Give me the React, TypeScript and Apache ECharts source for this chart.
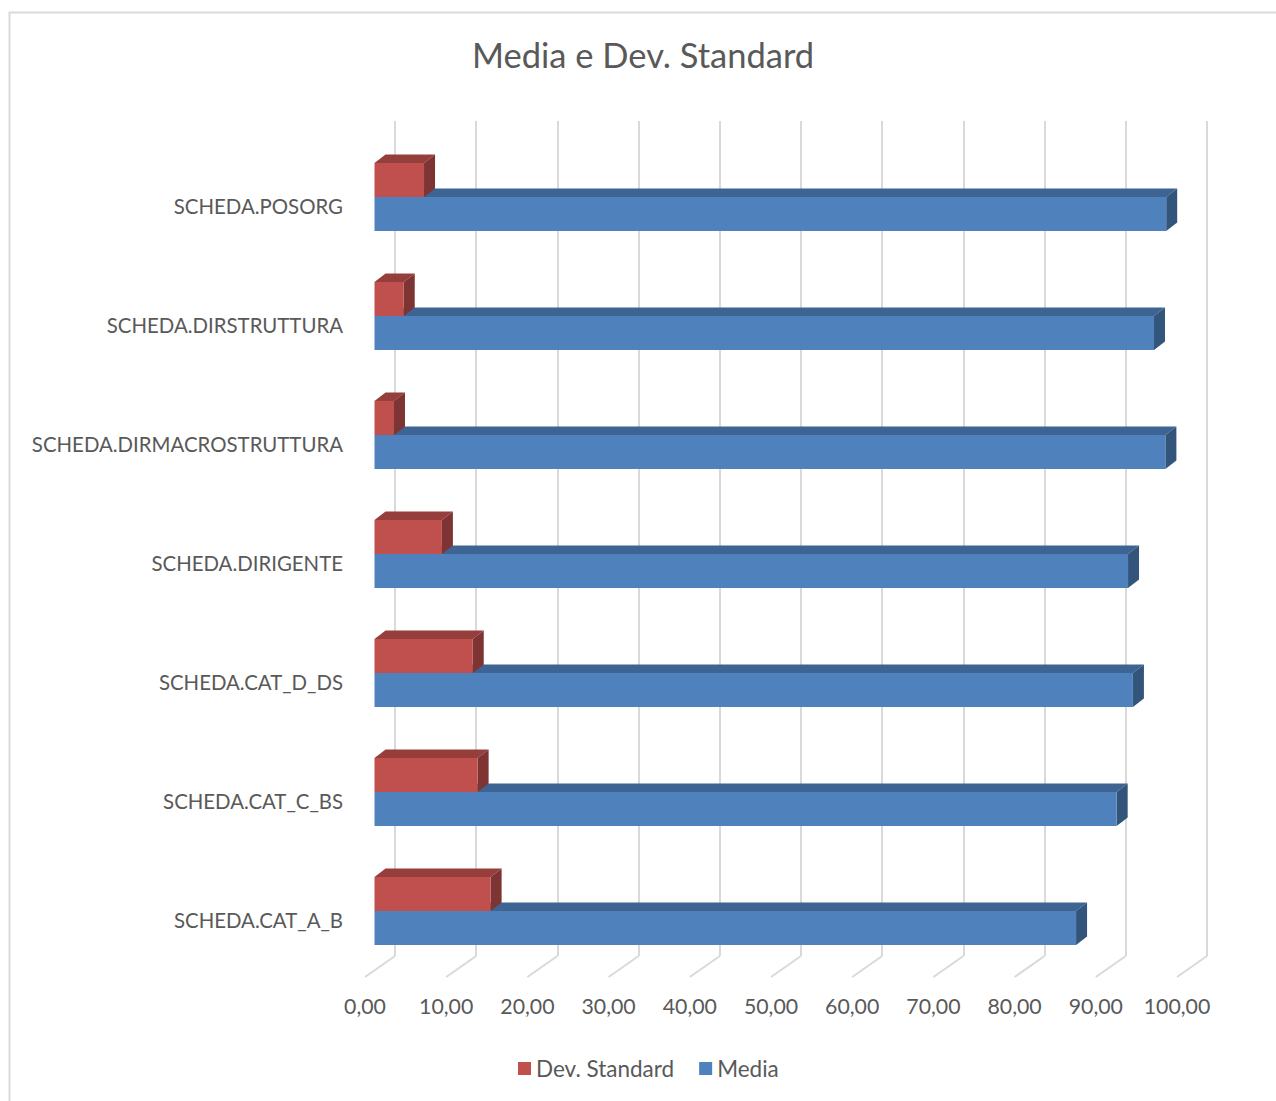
import React, { useEffect, useRef } from "react";
import * as echarts from "echarts";

// Categories listed bottom-to-top (ECharts draws the first category at the bottom)
const categories = [
  "SCHEDA.CAT_A_B",
  "SCHEDA.CAT_C_BS",
  "SCHEDA.CAT_D_DS",
  "SCHEDA.DIRIGENTE",
  "SCHEDA.DIRMACROSTRUTTURA",
  "SCHEDA.DIRSTRUTTURA",
  "SCHEDA.POSORG",
];
const devStandard = [14.3, 12.7, 12.1, 8.3, 2.4, 3.6, 6.1];
const media = [86.4, 91.4, 93.4, 92.8, 97.4, 96.0, 97.5];
const xTicks = [0, 10, 20, 30, 40, 50, 60, 70, 80, 90, 100];

const FONT = "Lato, 'Open Sans', sans-serif";
const TEXT = "#595959";
const GRID_LINE = "#d9d9d9";

// Oblique 3D look: shift from the front plane to the back wall
const WALL_DX = 30;
const WALL_DY = -21;
// Bars sit a little behind the front plane and have a fixed depth
const BAR_OFF_X = 9.5;
const BAR_OFF_Y = -8.6;
const BAR_DX = 11;
const BAR_DY = -8.5;
const BAR_H = 34;
// Front floor edge sits slightly above the label baseline of the front plane
const FLOOR_LIFT = 2;

function makeBarRenderer(front: string, top: string, side: string, upper: boolean) {
  return (params: any, api: any) => {
    const cat = api.value(0);
    const val = api.value(1);
    const p0 = api.coord([0, cat]);
    const p1 = api.coord([val, cat]);
    const yc = p0[1] + BAR_OFF_Y;
    const x0 = p0[0] + BAR_OFF_X;
    const x1 = p1[0] + BAR_OFF_X;
    const yTop = upper ? yc - BAR_H : yc;
    const yBot = yTop + BAR_H;
    return {
      type: "group",
      children: [
        {
          type: "polygon",
          shape: {
            points: [
              [x0, yTop],
              [x1, yTop],
              [x1 + BAR_DX, yTop + BAR_DY],
              [x0 + BAR_DX, yTop + BAR_DY],
            ],
          },
          style: { fill: top },
        },
        {
          type: "polygon",
          shape: {
            points: [
              [x1, yTop],
              [x1 + BAR_DX, yTop + BAR_DY],
              [x1 + BAR_DX, yBot + BAR_DY],
              [x1, yBot],
            ],
          },
          style: { fill: side },
        },
        {
          type: "rect",
          shape: { x: x0, y: yTop, width: x1 - x0, height: BAR_H },
          style: { fill: front },
        },
      ],
    };
  };
}

// Floor lines running from each back-wall gridline to the front edge
function floorRenderer(params: any, api: any) {
  const v = api.value(0);
  const x = api.coord([v, 0])[0];
  const cs = params.coordSys;
  const yb = cs.y + cs.height - FLOOR_LIFT;
  return {
    type: "line",
    shape: { x1: x, y1: yb, x2: x + WALL_DX, y2: yb + WALL_DY },
    style: { stroke: GRID_LINE, lineWidth: 2 },
  };
}

export default function App() {
  const ref = useRef<HTMLDivElement>(null);

  useEffect(() => {
    document.body.style.margin = "0";
    if (!ref.current) return;
    const chart = echarts.init(ref.current, undefined, { renderer: "svg" });

    const option: any = {
      animation: false,
      backgroundColor: "#ffffff",
      textStyle: { fontFamily: FONT },
      title: {
        text: "Media e Dev. Standard",
        left: 467,
        top: 32,
        textStyle: { fontFamily: FONT, fontSize: 34.5, fontWeight: "normal", color: TEXT },
      },
      legend: {
        data: ["Dev. Standard", "Media"],
        left: 513,
        top: 1052,
        icon: "rect",
        itemWidth: 13,
        itemHeight: 13,
        itemGap: 25,
        textStyle: { fontFamily: FONT, fontSize: 22.5, color: TEXT },
      },
      graphic: [
        {
          type: "rect",
          shape: { x: 9.5, y: 12.5, width: 1400, height: 1200 },
          style: { fill: "none", stroke: GRID_LINE, lineWidth: 2 },
          silent: true,
        },
      ],
      grid: [
        // front plane: bars, category labels, value labels
        { left: 365, width: 812, top: 146, height: 833 },
        // back wall: vertical gridlines
        { left: 365 + WALL_DX, width: 812, top: 121, height: 835 },
      ],
      xAxis: [
        {
          type: "value",
          gridIndex: 0,
          min: 0,
          max: 100,
          interval: 10,
          axisLine: { show: false },
          axisTick: { show: false },
          splitLine: { show: false },
          axisLabel: {
            margin: 16,
            fontFamily: FONT,
            fontSize: 21.3,
            color: TEXT,
            formatter: (v: number) => v.toFixed(2).replace(".", ","),
          },
        },
        {
          type: "value",
          gridIndex: 1,
          min: 0,
          max: 100,
          interval: 10,
          axisLine: { show: false },
          axisTick: { show: false },
          axisLabel: { show: false },
          splitLine: { show: true, lineStyle: { color: GRID_LINE, width: 2 } },
        },
      ],
      yAxis: [
        {
          type: "category",
          gridIndex: 0,
          data: categories,
          axisLine: { show: false },
          axisTick: { show: false },
          axisLabel: { margin: 22, fontFamily: FONT, fontSize: 20.4, color: TEXT },
        },
        {
          type: "category",
          gridIndex: 1,
          data: categories,
          show: false,
        },
      ],
      series: [
        {
          type: "custom",
          name: "floor",
          xAxisIndex: 0,
          yAxisIndex: 0,
          silent: true,
          z: 1,
          renderItem: floorRenderer,
          encode: { x: 0 },
          data: xTicks.map((t) => [t, 0]),
        },
        {
          type: "custom",
          name: "Media",
          xAxisIndex: 0,
          yAxisIndex: 0,
          z: 2,
          itemStyle: { color: "#4F81BD" },
          renderItem: makeBarRenderer("#4F81BD", "#3D6493", "#33547B", false),
          encode: { x: 1, y: 0 },
          data: media.map((v, i) => [i, v]),
        },
        {
          type: "custom",
          name: "Dev. Standard",
          xAxisIndex: 0,
          yAxisIndex: 0,
          z: 3,
          itemStyle: { color: "#C0504D" },
          renderItem: makeBarRenderer("#C0504D", "#963E3C", "#7D3432", true),
          encode: { x: 1, y: 0 },
          data: devStandard.map((v, i) => [i, v]),
        },
      ],
    };

    chart.setOption(option);
    return () => chart.dispose();
  }, []);

  return <div ref={ref} style={{ width: 1276, height: 1101 }} />;
}
